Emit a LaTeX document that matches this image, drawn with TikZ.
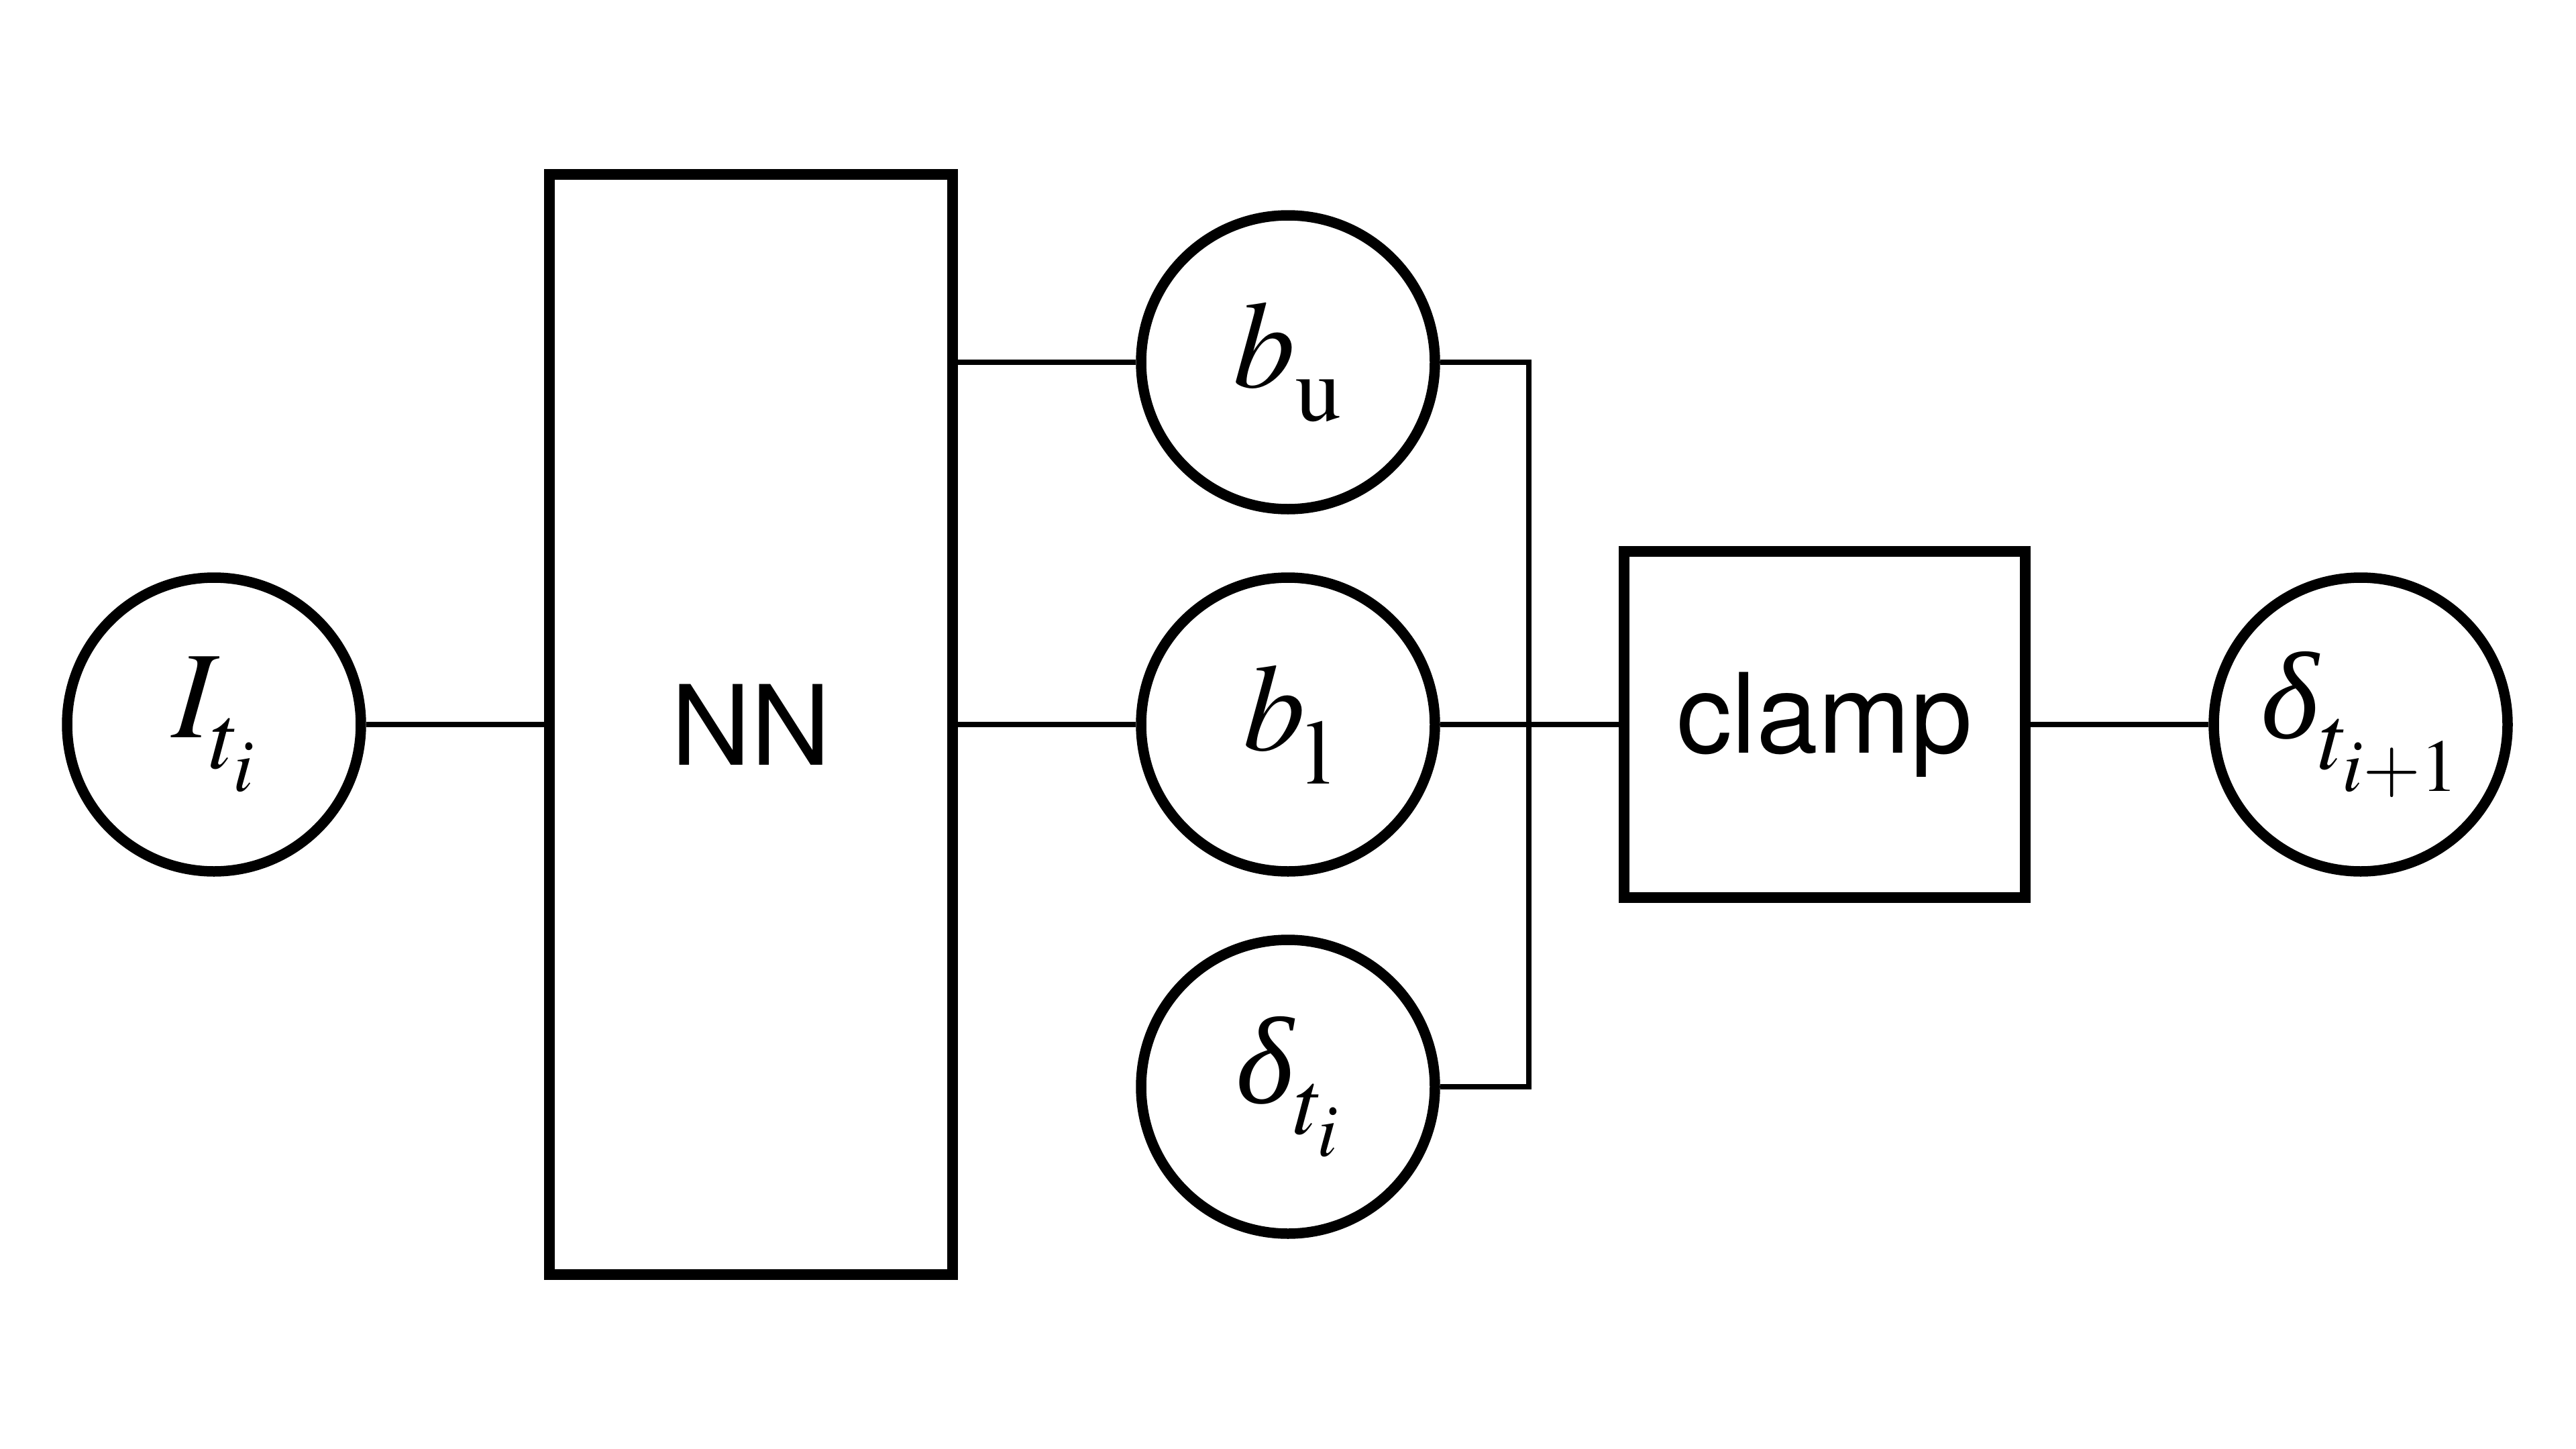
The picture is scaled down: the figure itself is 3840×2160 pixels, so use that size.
\documentclass[tikz,border=0pt]{standalone}
\usepackage{mathptmx}
\usepackage[no-math]{fontspec}
\setsansfont{TeX Gyre Heros}
\newfontfamily\lserif{Liberation Serif}
\newcommand\dlt{\hbox{\lserif\itshape δ}}
\newcommand\lowsub[2]{\raisebox{-#1}{$\scriptstyle #2$}}
\newcommand\lowsubsub[2]{\raisebox{-#1}{$\scriptscriptstyle #2$}}
\begin{document}
\begin{tikzpicture}[x=0.1mm,y=-0.1mm,
  thick line/.style={line width=1.55mm},
  thin line/.style={line width=0.75mm},
  var/.style={circle,draw,thick line,minimum size=43.8mm,inner sep=0pt,
    font=\fontsize{52.6}{60}\selectfont},
  blk/.style={rectangle,draw,thick line,inner sep=0pt,
    font=\sffamily\fontsize{47}{56}\selectfont}]
\useasboundingbox (0,0) rectangle (3840,2160);
\node[var] (I) at (319,1080) {$I_{\lowsub{0.1em}{t_{\lowsubsub{0.07em}{i}}}}$};
\node[blk,minimum width=60.1mm,minimum height=164mm] (nn) at (1119.5,1080) {NN};
\node[var] (bu) at (1920,540) {$b_{\lowsub{0.12em}{\mathrm{u}}}$};
\node[var] (bl) at (1920,1080) {$b_{\lowsub{0.12em}{\mathrm{l}}}$};
\node[var] (dt) at (1920,1620) {$\dlt_{\lowsub{0.1em}{t_{\lowsubsub{0.07em}{i}}}}$};
\node[blk,minimum width=59.8mm,minimum height=51.6mm] (clamp) at (2720,1080) {clamp};
\node[var] (dn) at (3519,1080) {$\dlt_{\lowsub{0.1em}{t_{\lowsubsub{0.07em}{i+1}}}}$};
\coordinate (jx) at (2279,1080);
\draw[thin line] (I.east) -- (nn.west);
\draw[thin line] (nn.east |- bu) -- (bu.west);
\draw[thin line] (nn.east |- bl) -- (bl.west);
\draw[thin line] (bu.east) -| (jx) |- (dt.east);
\draw[thin line] (bl.east) -- (clamp.west);
\draw[thin line] (clamp.east) -- (dn.west);
\end{tikzpicture}
\end{document}
